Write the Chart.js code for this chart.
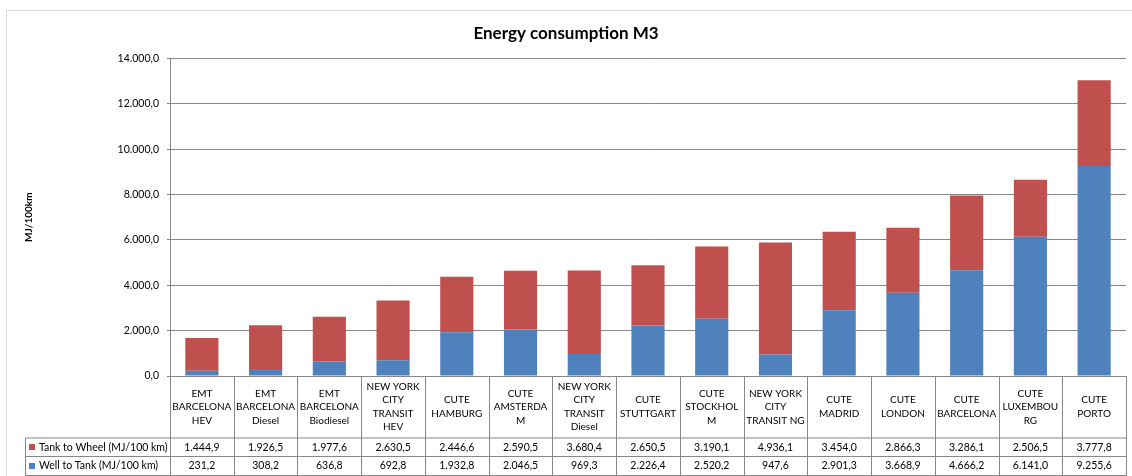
<!DOCTYPE html>
<html>
<head>
<meta charset="utf-8">
<title>Energy consumption M3</title>
<script src="https://cdn.jsdelivr.net/npm/chart.js@4/dist/chart.umd.min.js"></script>
<style>
    html, body { margin: 0; padding: 0; background: #ffffff; }
    #wrap { width: 1132px; height: 476px; position: relative; }
</style>
</head>
<body>
<div id="wrap"><canvas id="chart"></canvas></div>
<script>
// Categorias (linhas do cabeçalho da tabela)
const categories = [
    ['EMT', 'BARCELONA', 'HEV'],
    ['EMT', 'BARCELONA', 'Diesel'],
    ['EMT', 'BARCELONA', 'Biodiesel'],
    ['NEW YORK', 'CITY', 'TRANSIT', 'HEV'],
    ['CUTE', 'HAMBURG'],
    ['CUTE', 'AMSTERDA', 'M'],
    ['NEW YORK', 'CITY', 'TRANSIT', 'Diesel'],
    ['CUTE', 'STUTTGART'],
    ['CUTE', 'STOCKHOL', 'M'],
    ['NEW YORK', 'CITY', 'TRANSIT NG'],
    ['CUTE', 'MADRID'],
    ['CUTE', 'LONDON'],
    ['CUTE', 'BARCELONA'],
    ['CUTE', 'LUXEMBOU', 'RG'],
    ['CUTE', 'PORTO']
];

const tankToWheel = [1444.9, 1926.5, 1977.6, 2630.5, 2446.6, 2590.5, 3680.4, 2650.5, 3190.1, 4936.1, 3454.0, 2866.3, 3286.1, 2506.5, 3777.8];
const wellToTank = [231.2, 308.2, 636.8, 692.8, 1932.8, 2046.5, 969.3, 2226.4, 2520.2, 947.6, 2901.3, 3668.9, 4666.2, 6141.0, 9255.6];

const seriesNames = ['Tank to Wheel (MJ/100 km)', 'Well to Tank (MJ/100 km)'];
const yTicks = [0, 2000, 4000, 6000, 8000, 10000, 12000, 14000];

const RED = '#C0504D';
const BLUE = '#4F81BD';
const GRID = '#878787';
const FONT = 'Lato, "Liberation Sans", sans-serif';

// formato 1.234,5
function fmt(v) {
    const parts = v.toFixed(1).split('.');
    const intPart = parts[0].replace(/\B(?=(\d{3})+(?!\d))/g, '.');
    return intPart + ',' + parts[1];
}

// Moldura externa do gráfico
const framePlugin = {
    id: 'frame',
    beforeDraw(chart) {
        const ctx = chart.ctx;
        ctx.save();
        ctx.fillStyle = '#ffffff';
        ctx.fillRect(0, 0, chart.width, chart.height);
        ctx.strokeStyle = '#D9D9D9';
        ctx.lineWidth = 1;
        ctx.strokeRect(6.5, 10.5, chart.width + 10, chart.height + 10);
        ctx.restore();
    }
};

// Tabela de dados sob o eixo X
const dataTablePlugin = {
    id: 'dataTable',
    afterDraw(chart) {
        const ctx = chart.ctx;
        const x = chart.scales.x;
        const area = chart.chartArea;
        const step = x.width / categories.length;
        const top = area.bottom;
        const row1 = 438;
        const row2 = 456.5;
        const bottom = 475.5;
        const legendLeft = 25.5;

        ctx.save();
        ctx.strokeStyle = GRID;
        ctx.lineWidth = 1;
        ctx.beginPath();
        // linhas verticais
        for (let i = 0; i <= categories.length; i++) {
            const px = Math.round(x.left + i * step) + 0.5;
            ctx.moveTo(px, top);
            ctx.lineTo(px, bottom);
        }
        ctx.moveTo(legendLeft, row1);
        ctx.lineTo(legendLeft, bottom);
        // linhas horizontais
        [row1, row2, bottom].forEach(y => {
            ctx.moveTo(legendLeft, y);
            ctx.lineTo(Math.round(x.right) + 0.5, y);
        });
        ctx.stroke();

        ctx.fillStyle = '#000000';
        ctx.textAlign = 'center';
        ctx.textBaseline = 'middle';
        const lineH = 13.5;
        const headMid = (top + row1) / 2;
        categories.forEach((lines, i) => {
            const cx = x.getPixelForValue(i);
            const y0 = headMid - (lines.length - 1) * lineH / 2;
            ctx.font = '10px ' + FONT;
            lines.forEach((t, j) => ctx.fillText(t, cx, y0 + j * lineH));
            ctx.font = '10.5px ' + FONT;
            ctx.fillText(fmt(tankToWheel[i]), cx, (row1 + row2) / 2);
            ctx.fillText(fmt(wellToTank[i]), cx, (row2 + bottom) / 2);
        });

        // legenda dentro da tabela
        ctx.textAlign = 'left';
        ctx.font = '10.5px ' + FONT;
        const rows = [[RED, (row1 + row2) / 2], [BLUE, (row2 + bottom) / 2]];
        rows.forEach((r, k) => {
            ctx.fillStyle = r[0];
            ctx.fillRect(29, Math.round(r[1]) - 3, 6, 6);
            ctx.fillStyle = '#000000';
            ctx.fillText(seriesNames[k], 39, r[1]);
        });
        ctx.restore();
    }
};

new Chart(document.getElementById('chart'), {
    type: 'bar',
    data: {
        labels: categories.map(c => c.join(' ')),
        datasets: [
            {
                label: seriesNames[1],
                data: wellToTank,
                backgroundColor: BLUE
            },
            {
                label: seriesNames[0],
                data: tankToWheel,
                backgroundColor: RED
            }
        ]
    },
    options: {
        responsive: true,
        maintainAspectRatio: false,
        animation: false,
        layout: { padding: { left: 6, right: 6, top: 10, bottom: 0 } },
        datasets: {
            bar: { categoryPercentage: 1, barPercentage: 0.52 }
        },
        scales: {
            x: {
                stacked: true,
                grid: { display: false },
                border: { display: true, color: GRID },
                ticks: { display: false },
                afterFit(scale) { scale.height = 100; }
            },
            y: {
                stacked: true,
                min: 0,
                max: 14000,
                afterBuildTicks(scale) {
                    scale.ticks = yTicks.map(v => ({ value: v }));
                },
                afterFit(scale) { scale.width = 164; },
                grid: { color: GRID, tickLength: 3 },
                border: { display: true, color: GRID },
                ticks: {
                    padding: 8,
                    color: '#000000',
                    font: { family: FONT, size: 10.5 },
                    callback: v => fmt(v)
                },
                title: {
                    display: true,
                    text: 'MJ/100km',
                    color: '#000000',
                    font: { family: FONT, size: 10, weight: 'bold' },
                    padding: { top: 17, bottom: 0 }
                }
            }
        },
        plugins: {
            legend: { display: false },
            tooltip: { enabled: false },
            title: {
                display: true,
                text: 'Energy consumption M3',
                color: '#000000',
                font: { family: FONT, size: 17, weight: 'bold' },
                padding: { top: 13, bottom: 15 }
            }
        }
    },
    plugins: [framePlugin, dataTablePlugin]
});
</script>
</body>
</html>
